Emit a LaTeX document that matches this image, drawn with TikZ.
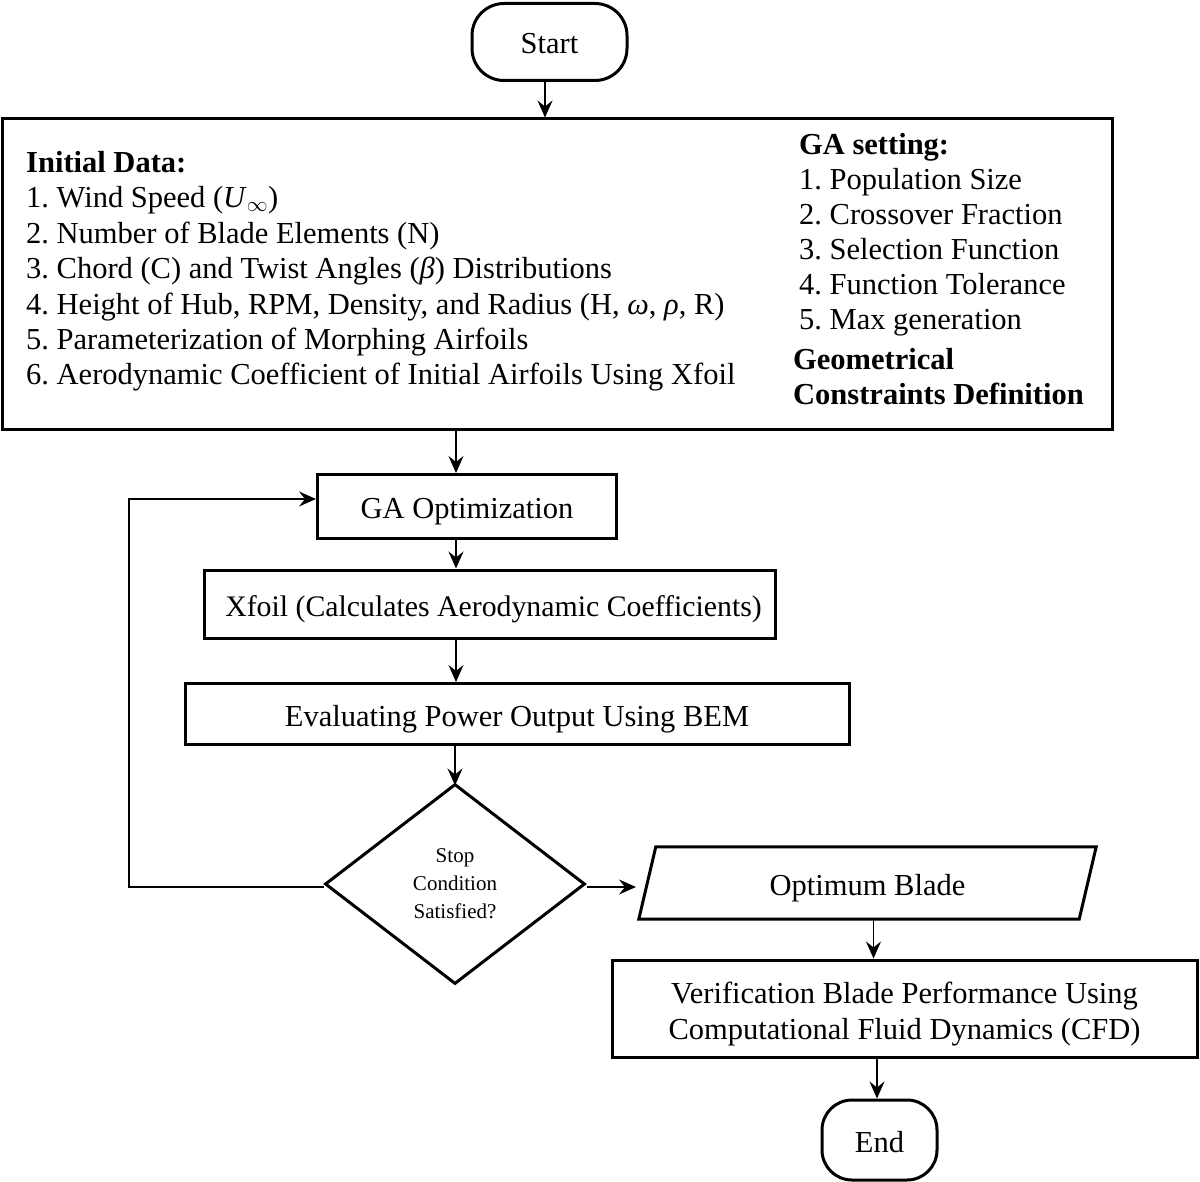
\documentclass[tikz,border=0pt]{standalone}
\usepackage{fontspec}
\setmainfont{Liberation Serif}
\usetikzlibrary{shapes.geometric,arrows.meta,calc}
\frenchspacing
\begin{document}
\begin{tikzpicture}[x=1pt,y=-1pt,
  txt/.style={font=\fontsize{30.5}{36}\selectfont},
  box/.style={draw, line width=3pt, rectangle, inner sep=0pt, txt, align=center},
  oneline/.style={text height=30pt, text depth=6pt},
  term/.style={box, oneline, rounded corners=32pt},
  decision/.style={draw, line width=3pt, diamond, inner sep=0pt, font=\fontsize{21}{28}\selectfont, align=center},
  arr/.style={line width=1.6pt, -{Stealth[length=17pt,width=15pt,inset=6pt]}},
  item/.style={anchor=base west, inner sep=0pt, txt},
  head/.style={item, font=\fontsize{30.5}{36}\selectfont\bfseries},
]
\useasboundingbox (0,0) rectangle (1200,1182);

% nodes
\node[term, minimum width=155pt, minimum height=77pt] (start) at (549.5,42) {Start};
\node[box, minimum width=1110pt, minimum height=310pt] (init) at (557,274) {};

\node[head] (l0) at (26,172.5) {Initial Data:};
\node[item] (l1) at (26,207.9) {1. Wind Speed (\textit{U}$_{\infty}$)};
\node[item] (l2) at (26,243.3) {2. Number of Blade Elements (N)};
\node[item] (l3) at (26,278.7) {3. Chord (C) and Twist Angles (\textit{β}) Distributions};
\node[item] (l4) at (26,314.1) {4. Height of Hub, RPM, Density, and Radius (H, \textit{ω}, \textit{ρ}, R)};
\node[item] (l5) at (26,349.5) {5. Parameterization of Morphing Airfoils};
\node[item] (l6) at (26,384.9) {6. Aerodynamic Coefficient of Initial Airfoils Using Xfoil};

\node[head] (r0) at (799,155) {GA setting:};
\node[item] (r1) at (799,190) {1. Population Size};
\node[item] (r2) at (799,225) {2. Crossover Fraction};
\node[item] (r3) at (799,260) {3. Selection Function};
\node[item] (r4) at (799,295) {4. Function Tolerance};
\node[item] (r5) at (799,330) {5. Max generation};
\node[head] (r6) at (793,370) {Geometrical};
\node[head] (r7) at (793,404) {Constraints Definition};

\node[box, oneline, minimum width=299pt, minimum height=64pt] (ga) at (467,506.5) {GA Optimization};
\node[box, oneline, minimum width=571pt, minimum height=68pt, font=\fontsize{29.8}{36}\selectfont] (xfoil) at (489.5,604) {\hspace*{8pt}Xfoil (Calculates Aerodynamic Coefficients)};
\node[box, oneline, minimum width=664pt, minimum height=61pt] (bem) at (517,714) {Evaluating Power Output Using BEM};
\node[decision, minimum width=260pt, minimum height=200pt] (stop) at (455,884) {Stop\\Condition\\Satisfied?};
\node[rectangle, inner sep=0pt, oneline, minimum width=440pt, minimum height=72pt, txt] (opt) at (867.5,883) {Optimum Blade};
\draw[line width=3pt, line join=miter]
  ([xshift=-8.5pt]opt.south west) -- ([xshift=8.5pt]opt.north west) --
  ([xshift=8.5pt]opt.north east) -- ([xshift=-8.5pt]opt.south east) -- cycle;
\node[box, text height=68pt, text depth=7pt, minimum width=585pt, minimum height=97pt] (cfd) at (904.5,1008.5) {Verification Blade Performance Using\\Computational Fluid Dynamics (CFD)};
\node[term, minimum width=115pt, minimum height=80pt, rounded corners=30pt] (end) at (879.5,1140) {End};

\coordinate (fb) at (129,887);
\coordinate (optin) at (636,887);

% connectors
\draw[arr] ([xshift=-4.5pt]start.south) -- ([xshift=-4.5pt]start.south |- init.north);
\draw[arr] ([xshift=-11pt]ga.north |- init.south) -- ([xshift=-11pt]ga.north);
\draw[arr] ([xshift=-11pt]ga.south) -- ([xshift=-11pt]ga.south |- xfoil.north);
\draw[arr] ([xshift=-11pt]ga.south |- xfoil.south) -- ([xshift=-11pt]ga.south |- bem.north);
\draw[arr] (stop.north |- bem.south) -- ([yshift=-3pt]stop.north);
\draw[arr] ([yshift=-3pt]stop.west) -- (fb) |- ([yshift=7.5pt]ga.west);
\draw[arr] ([yshift=-3pt]stop.east) -- (optin);
\draw[arr] ([xshift=6pt]opt.south) -- ([xshift=6pt]opt.south |- cfd.north);
\draw[arr] ([xshift=-2.5pt]end.north |- cfd.south) -- ([xshift=-2.5pt]end.north);
\end{tikzpicture}
\end{document}
